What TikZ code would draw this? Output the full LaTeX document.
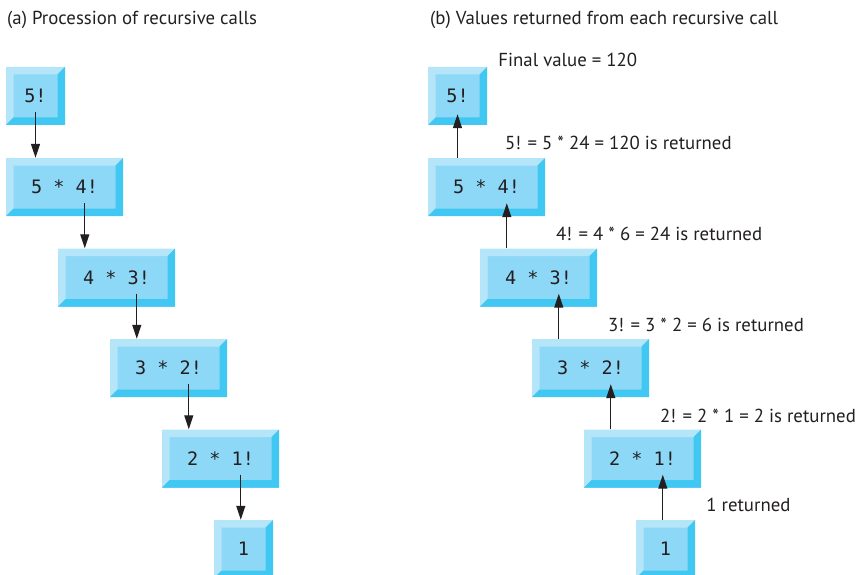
\documentclass[tikz,border=0pt]{standalone}
\usepackage{fontspec}
\setmainfont{PT Sans}
\newfontfamily\boxfont{DejaVu Sans Mono}
\usepackage{tikz}
\usetikzlibrary{arrows.meta, positioning, calc}

\definecolor{bevlight}{HTML}{B5E5F9}
\definecolor{bevface}{HTML}{8DD8F6}
\definecolor{bevdark}{HTML}{40C7F2}
\definecolor{ink}{HTML}{231F20}

\newcommand{\bevw}{7.5pt}
\tikzset{
    callbox/.style={minimum width=117pt, minimum height=58pt, inner sep=0pt,
        fill=bevface, text=ink, font=\boxfont\fontsize{18.5}{20}\selectfont,
        path picture={
            \fill[bevlight] (path picture bounding box.south west) -- (path picture bounding box.north west)
                -- (path picture bounding box.north east) -- ([shift={(-\bevw,-\bevw)}]path picture bounding box.north east)
                -- ([shift={(\bevw,-\bevw)}]path picture bounding box.north west) -- ([shift={(\bevw,\bevw)}]path picture bounding box.south west) -- cycle;
            \fill[bevdark] (path picture bounding box.south west) -- (path picture bounding box.south east)
                -- (path picture bounding box.north east) -- ([shift={(-\bevw,-\bevw)}]path picture bounding box.north east)
                -- ([shift={(-\bevw,\bevw)}]path picture bounding box.south east) -- ([shift={(\bevw,\bevw)}]path picture bounding box.south west) -- cycle;
        }},
    sqbox/.style={callbox, minimum width=59pt},
    caption/.style={anchor=base west, inner sep=0pt, text=ink, font=\fontsize{18.8}{22}\selectfont},
    callarrow/.style={-{Triangle[length=14pt,width=9pt]}, line width=1.3pt, draw=ink},
}

\begin{document}
\begin{tikzpicture}[x=1pt, y=-1pt]
    \useasboundingbox (0,0) rectangle (859,575);

    % (a) procession of calls
    \begin{scope}
        \node[caption] (ttla) at (7,25) {(a) Procession of recursive calls};
        \node[sqbox] (a5) at (35.5,96) {5!};
        \node[callbox] (a4) at (64.5,187) {5 * 4!};
        \node[callbox] (a3) at (116.5,277.5) {4 * 3!};
        \node[callbox] (a2) at (168.5,368) {3 * 2!};
        \node[callbox] (a1) at (220.5,458.5) {2 * 1!};
        \node[sqbox] (a0) at (243.5,549) {1};

        \coordinate (pa5) at ([yshift=13pt]a5.south);
        \coordinate (pa4) at ([xshift=79pt, yshift=13pt]a4.south west);
        \coordinate (pa3) at ([xshift=79pt, yshift=13pt]a3.south west);
        \coordinate (pa2) at ([xshift=79pt, yshift=13pt]a2.south west);
        \coordinate (pa1) at ([xshift=79pt, yshift=13pt]a1.south west);
        \draw[callarrow] (pa5) -- (pa5 |- a4.north);
        \draw[callarrow] (pa4) -- (pa4 |- a3.north);
        \draw[callarrow] (pa3) -- (pa3 |- a2.north);
        \draw[callarrow] (pa2) -- (pa2 |- a1.north);
        \draw[callarrow] (pa1) -- (pa1 |- a0.north);
    \end{scope}

    % (b) values coming back
    \begin{scope}[xshift=422pt]
        \node[caption] (ttlb) at (8,25) {(b) Values returned from each recursive call};
        \node[sqbox] (b5) at (35.5,96) {5!};
        \node[callbox] (b4) at (64.5,187) {5 * 4!};
        \node[callbox] (b3) at (116.5,277.5) {4 * 3!};
        \node[callbox] (b2) at (168.5,368) {3 * 2!};
        \node[callbox] (b1) at (220.5,458.5) {2 * 1!};
        \node[sqbox] (b0) at (243.5,549) {1};

        \coordinate (qb5) at ([yshift=11pt]b5.south);
        \coordinate (qb4) at ([xshift=79pt, yshift=13pt]b4.south west);
        \coordinate (qb3) at ([xshift=79pt, yshift=13pt]b3.south west);
        \coordinate (qb2) at ([xshift=79pt, yshift=13pt]b2.south west);
        \coordinate (qb1) at ([xshift=79pt, yshift=13pt]b1.south west);
        \draw[callarrow] (qb5 |- b4.north) -- (qb5);
        \draw[callarrow] (qb4 |- b3.north) -- (qb4);
        \draw[callarrow] (qb3 |- b2.north) -- (qb3);
        \draw[callarrow] (qb2 |- b1.north) -- (qb2);
        \draw[callarrow] (qb1 |- b0.north) -- (qb1);

        \node[caption] (rv5) at ([xshift=11pt]b5.north east) {Final value = 120};
        \node[caption] (rv4) at ([xshift=77pt, yshift=8pt]b4.north west) {5! = 5 * 24 = 120 is returned};
        \node[caption] (rv3) at ([xshift=76pt, yshift=8pt]b3.north west) {4! = 4 * 6 = 24 is returned};
        \node[caption] (rv2) at ([xshift=76pt, yshift=7pt]b2.north west) {3! = 3 * 2 = 6 is returned};
        \node[caption] (rv1) at ([xshift=76pt, yshift=7pt]b1.north west) {2! = 2 * 1 = 2 is returned};
        \node[caption] (rv0) at ([xshift=11pt, yshift=8pt]b0.north east) {1 returned};
    \end{scope}
\end{tikzpicture}
\end{document}
